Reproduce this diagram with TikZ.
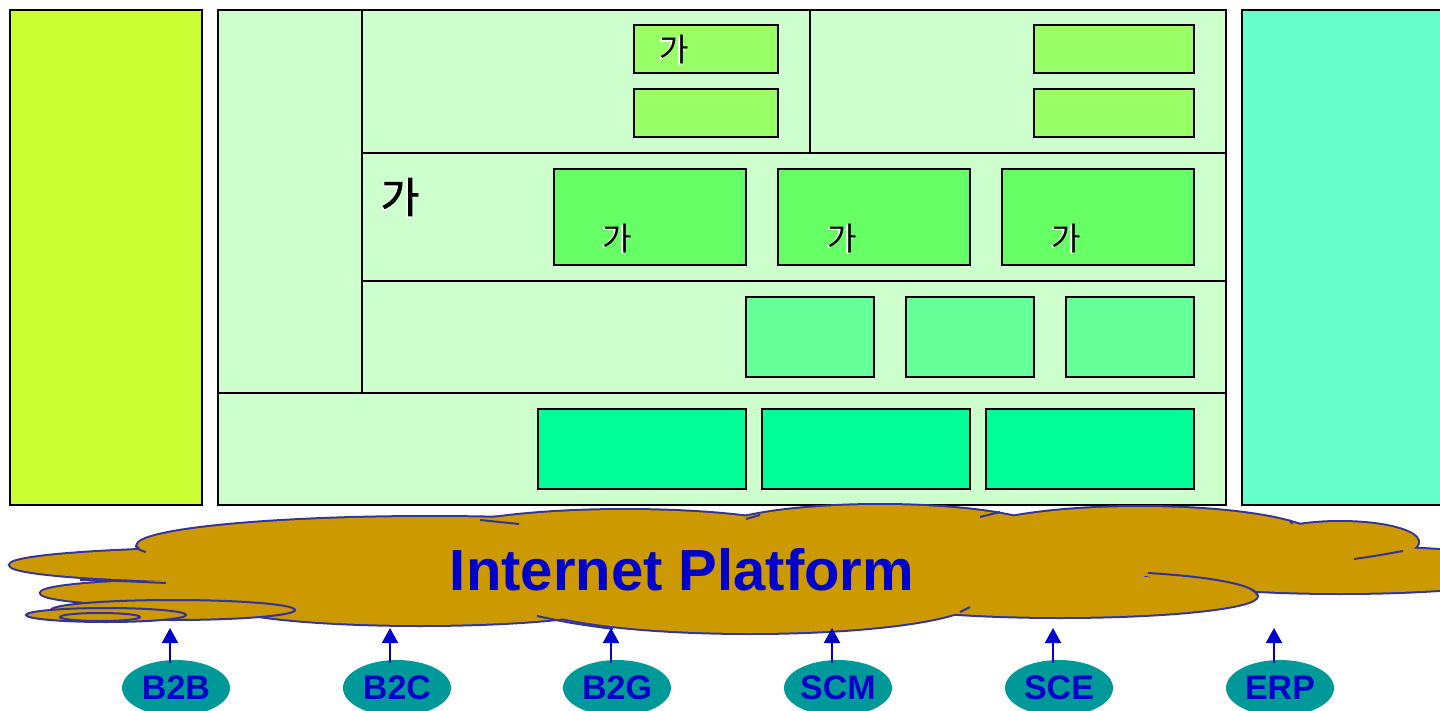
\documentclass[tikz,border=0pt]{standalone}
\usepackage{fontspec}
\setmainfont{Liberation Sans}
\newfontfamily\kr{Noto Sans CJK KR}
\newfontfamily\krb[FakeBold=1.5]{Noto Sans CJK KR}
\usetikzlibrary{shapes.geometric,arrows.meta}
\definecolor{cLeft}{HTML}{CCFF33}
\definecolor{cMain}{HTML}{CCFFCC}
\definecolor{cRight}{HTML}{66FFCC}
\definecolor{cTop}{HTML}{99FF66}
\definecolor{cMid}{HTML}{66FF66}
\definecolor{cRow}{HTML}{66FF99}
\definecolor{cLow}{HTML}{00FF99}
\definecolor{cCloud}{HTML}{CC9900}
\definecolor{cEdge}{HTML}{333399}
\definecolor{cOval}{HTML}{009999}
\definecolor{cText}{HTML}{0000CC}
\tikzset{
  panel/.style={draw=black,line width=1pt},
  blk/.style={draw=black,line width=1pt,inner sep=0pt,rectangle},
  topblk/.style={blk,fill=cTop,minimum height=24pt},
  midblk/.style={blk,fill=cMid,minimum width=96pt,minimum height=48pt},
  rowblk/.style={blk,fill=cRow,minimum width=64pt,minimum height=40pt},
  lowblk/.style={blk,fill=cLow,minimum width=104pt,minimum height=40pt},
  oval/.style={ellipse,fill=cOval,inner sep=0pt,minimum width=54pt,minimum height=28pt,
    text=cText,font=\fontsize{17}{18}\selectfont\bfseries},
  uparrow/.style={draw=cText,line width=1pt,-{Triangle[length=7.5pt,width=8pt]}},
  edge/.style={draw=cEdge,line width=1pt},
}
\newcommand{\krlabel}[5]{% name, x, y, size, family
  \node[text=white,font=#5\fontsize{#4}{#4}\selectfont,inner sep=0pt] at (#2-1.5,#3+1.5) {가};
  \node[text=black,font=#5\fontsize{#4}{#4}\selectfont,inner sep=0pt] (#1) at (#2,#3) {가};
}
\begin{document}
\begin{tikzpicture}[x=0.5pt,y=-0.5pt]
\useasboundingbox (0,0) rectangle (1440,711);
% panels
\draw[panel,fill=cLeft] (10,10) rectangle (202,505);
\draw[panel,fill=cMain] (218,10) rectangle (1226,505);
\draw[panel,fill=cRight] (1242,10) rectangle (1450,505);
\draw[panel] (362,10) -- (362,393);
\draw[panel] (218,393) -- (1226,393);
\draw[panel] (362,153) -- (1226,153);
\draw[panel] (362,281) -- (1226,281);
\draw[panel] (810,10) -- (810,153);
% blocks
\node[topblk,minimum width=72pt] (t1) at (706,49) {};
\node[topblk,minimum width=72pt] (t2) at (706,113) {};
\node[topblk,minimum width=80pt] (t3) at (1114,49) {};
\node[topblk,minimum width=80pt] (t4) at (1114,113) {};
\node[midblk] (m1) at (650,217) {};
\node[midblk] (m2) at (874,217) {};
\node[midblk] (m3) at (1098,217) {};
\node[rowblk] (r1) at (810,337) {};
\node[rowblk] (r2) at (970,337) {};
\node[rowblk] (r3) at (1130,337) {};
\node[lowblk] (l1) at (642,449) {};
\node[lowblk] (l2) at (866,449) {};
\node[lowblk] (l3) at (1090,449) {};
% korean labels
\krlabel{k0}{674}{50}{16}{\kr}
\krlabel{k1}{400}{197}{21}{\krb}
\krlabel{k2}{617}{238}{16}{\kr}
\krlabel{k3}{842}{238}{16}{\kr}
\krlabel{k4}{1066}{238}{16}{\kr}
% cloud: outline layer then fill layer
\def\cloudlist{255/565/245/17, 200/593/159/13, 430/546/293/29, 625/542/200/32,
  880/535/170/30, 1140/540/180/33, 1340/542/78/20, 1340/570/200/23,
  1060/596/197/21, 750/600/225/33, 420/603/200/22, 700/570/450/40}
\foreach \cx/\cy/\rx/\ry in \cloudlist {
  \draw[cEdge,line width=2pt] (\cx,\cy) ellipse[x radius=\rx,y radius=\ry];
}
\foreach \cx/\cy/\rx/\ry in \cloudlist {
  \fill[cCloud] (\cx,\cy) ellipse[x radius=\rx,y radius=\ry];
}
% interior cloud strokes
\draw[edge] (137,546) .. controls (139,550) .. (146,552);
\draw[edge] (80,580) .. controls (120,581) .. (166,583);
\draw[edge] (480,520) -- (519,524);
\draw[edge] (537,616) .. controls (570,623) .. (613,629);
\draw[edge] (746,519) -- (760,515);
\draw[edge] (980,517) -- (1000,512);
\draw[edge] (1148,573) .. controls (1230,578) and (1257,588) .. (1257,595);
\draw[edge] (1354,559) .. controls (1375,556) .. (1403,551);
\draw[edge] (1290,520) -- (1292,524);
\draw[edge] (960,612) -- (970,607);
% small ellipses at lower left
\draw[edge,fill=cCloud] (173,610) ellipse[x radius=122,y radius=10];
\draw[edge,fill=cCloud] (106,615) ellipse[x radius=80,y radius=7];
\draw[edge,fill=cCloud] (100,617) ellipse[x radius=40,y radius=4];
\node[text=cText,font=\fontsize{29}{32}\selectfont\bfseries,inner sep=0pt] (ip) at (682,570) {Internet Platform};
% ovals and arrows
\foreach \nm/\lab/\ox/\ax in {b2b/B2B/176/170, b2c/B2C/397/390, b2g/B2G/617/611,
  scm/SCM/838/832, sce/SCE/1059/1053, erp/ERP/1280/1274} {
  \node[oval] (\nm) at (\ox,688) {\lab};
  \coordinate (\nm tip) at (\ax,628);
  \coordinate (\nm base) at (\ax,663);
  \draw[uparrow] (\nm base) -- (\nm tip);
}
\end{tikzpicture}
\end{document}
